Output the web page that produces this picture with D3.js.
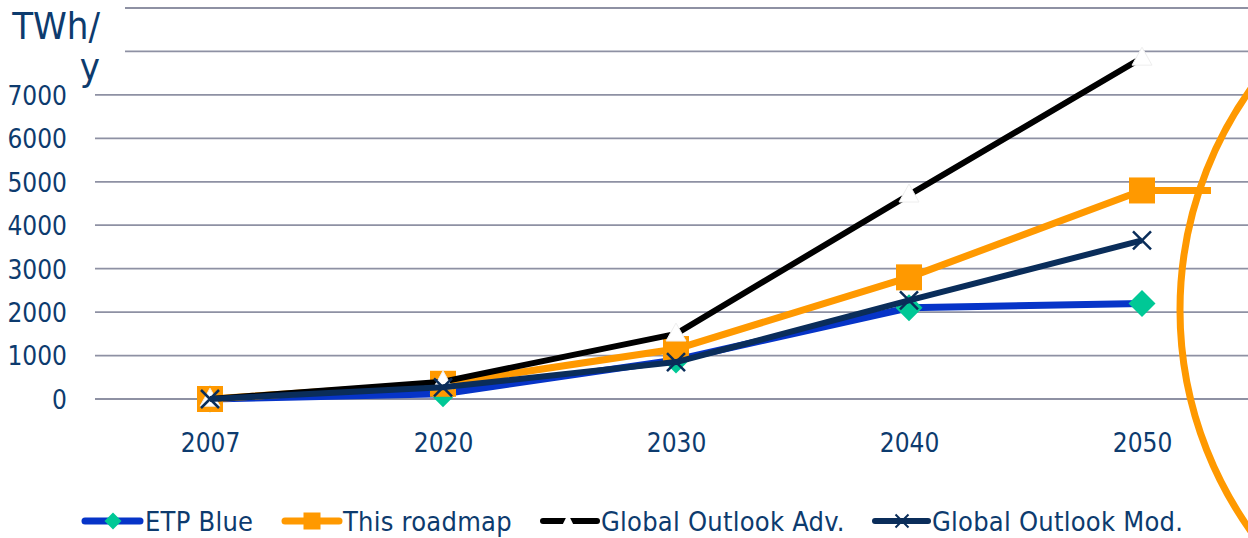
<!DOCTYPE html>
<html>
<head>
<meta charset="utf-8">
<script src="https://cdn.jsdelivr.net/npm/d3@7/dist/d3.min.js"></script>
<style>
  html, body { margin: 0; padding: 0; background: #ffffff; overflow: hidden; }
  svg { display: block; }
  text { font-family: "DejaVu Sans Condensed", "DejaVu Sans", sans-serif; fill: #0d3b6e; }
</style>
</head>
<body>
<svg id="chart" width="1248" height="538"></svg>
<script>
// Electricity generation scenarios, TWh per year
const years = ["2007", "2020", "2030", "2040", "2050"];
const etpBlue = [0, 120, 900, 2100, 2200];
const roadmap = [0, 350, 1150, 2800, 4800];
const outlookAdv = [0, 400, 1500, 4700, 7850];
const outlookMod = [0, 270, 850, 2270, 3650];
const yTickValues = [0, 1000, 2000, 3000, 4000, 5000, 6000, 7000];
const gridValues = [0, 1000, 2000, 3000, 4000, 5000, 6000, 7000, 8000, 9000];
const seriesNames = ["ETP Blue", "This roadmap", "Global Outlook Adv.", "Global Outlook Mod."];

const W = 1248, H = 538;
const svg = d3.select("#chart");

const x = d3.scalePoint().domain(years).range([210, 1142]);
const y = d3.scaleLinear().domain([0, 9000]).range([399, 8]);

const colors = {
  blue: "#0634c8",
  diamond: "#00c896",
  orange: "#ff9900",
  black: "#000000",
  navy: "#0a2d5a"
};

// horizontal gridlines
svg.append("g")
  .selectAll("line")
  .data(gridValues)
  .join("line")
  .attr("x1", 95)
  .attr("x2", W)
  .attr("y1", d => y(d))
  .attr("y2", d => y(d))
  .attr("stroke", "#8e91a3")
  .attr("stroke-width", 1.8);

// y axis labels (no axis line)
const yAxis = d3.axisLeft(y).tickValues(yTickValues).tickSize(0).tickPadding(0).tickFormat(d3.format("d"));
const gy = svg.append("g").attr("transform", "translate(67,0)").call(yAxis);
gy.select(".domain").remove();
gy.selectAll("text")
  .attr("font-size", 26)
  .attr("dy", "0.36em")
  .style("font-family", '"DejaVu Sans Condensed", sans-serif')
  .style("fill", "#0d3b6e");

// x axis labels
const xAxis = d3.axisBottom(x).tickSize(0).tickPadding(0);
const gx = svg.append("g").attr("transform", "translate(0,443)").call(xAxis);
gx.select(".domain").remove();
gx.selectAll("text")
  .attr("font-size", 26)
  .attr("dy", "0.36em")
  .attr("y", 0)
  .style("font-family", '"DejaVu Sans Condensed", sans-serif')
  .style("fill", "#0d3b6e");

// marker shapes
const diamondPath = s => `M0,${-s/2}L${s/2},0L0,${s/2}L${-s/2},0Z`;
const trianglePath = (w, h) => `M0,${-h*0.6}L${w/2},${h*0.4}L${-w/2},${h*0.4}Z`;
const crossPath = s => `M${-s/2},${-s/2}L${s/2},${s/2}M${s/2},${-s/2}L${-s/2},${s/2}`;

const line = d3.line().x((d, i) => x(years[i])).y(d => y(d));
const plot = svg.append("g");

function drawSeries(values, stroke, width, markerFn) {
  const g = plot.append("g");
  g.append("path")
    .datum(values)
    .attr("d", line)
    .attr("fill", "none")
    .attr("stroke", stroke)
    .attr("stroke-width", width)
    .attr("stroke-linejoin", "round");
  g.selectAll("g.m")
    .data(values)
    .join("g")
    .attr("class", "m")
    .attr("transform", (d, i) => `translate(${x(years[i])},${y(d)})`)
    .each(function () { markerFn(d3.select(this)); });
}

drawSeries(etpBlue, colors.blue, 7, m =>
  m.append("path").attr("d", diamondPath(27)).attr("fill", colors.diamond));

drawSeries(roadmap, colors.orange, 7, m =>
  m.append("rect").attr("x", -13).attr("y", -13).attr("width", 26).attr("height", 26).attr("fill", colors.orange));

drawSeries(outlookAdv, colors.black, 6, m =>
  m.append("path").attr("d", trianglePath(20, 18)).attr("fill", "#ffffff").attr("stroke", "#eeeeee").attr("stroke-width", 1));

drawSeries(outlookMod, colors.navy, 6, m =>
  m.append("path").attr("d", crossPath(18)).attr("fill", "none").attr("stroke", colors.navy).attr("stroke-width", 2.5));

// highlight ring around the 2050 figures
const last = years[years.length - 1];
svg.append("circle")
  .attr("cx", x(last) + 418)
  .attr("cy", 310)
  .attr("r", 380)
  .attr("fill", "none")
  .attr("stroke", colors.orange)
  .attr("stroke-width", 7);

svg.append("line")
  .attr("x1", x(last))
  .attr("x2", x(last) + 69)
  .attr("y1", y(roadmap[roadmap.length - 1]))
  .attr("y2", y(roadmap[roadmap.length - 1]))
  .attr("stroke", colors.orange)
  .attr("stroke-width", 7);

// unit title on a white panel
svg.append("rect").attr("x", 0).attr("y", 0).attr("width", 125).attr("height", 75).attr("fill", "#ffffff");
const title = svg.append("text")
  .attr("text-anchor", "end")
  .attr("font-size", 38)
  .style("fill", "#0d3b6e");
title.append("tspan").attr("x", 100).attr("y", 39).text("TWh/");
title.append("tspan").attr("x", 100).attr("y", 80).text("y");

// legend
const legendY = 521;
const legend = svg.append("g");
const legendItems = [
  { name: seriesNames[0], x1: 85, x2: 140, mx: 113, color: colors.blue, w: 7, tx: 145,
    marker: g => g.append("path").attr("d", diamondPath(17)).attr("fill", colors.diamond) },
  { name: seriesNames[1], x1: 285, x2: 339, mx: 312, color: colors.orange, w: 7, tx: 343,
    marker: g => g.append("rect").attr("x", -8.5).attr("y", -8.5).attr("width", 17).attr("height", 17).attr("fill", colors.orange) },
  { name: seriesNames[2], x1: 543, x2: 597, mx: 568, color: colors.black, w: 6, tx: 601,
    marker: g => g.append("path").attr("d", trianglePath(12, 12)).attr("fill", "#ffffff") },
  { name: seriesNames[3], x1: 875, x2: 928, mx: 902, color: colors.navy, w: 6, tx: 932,
    marker: g => g.append("path").attr("d", crossPath(13)).attr("fill", "none").attr("stroke", colors.navy).attr("stroke-width", 2) }
];
legendItems.forEach(it => {
  legend.append("line")
    .attr("x1", it.x1).attr("x2", it.x2)
    .attr("y1", legendY).attr("y2", legendY)
    .attr("stroke", it.color).attr("stroke-width", it.w)
    .attr("stroke-linecap", "round");
  it.marker(legend.append("g").attr("transform", `translate(${it.mx},${legendY})`));
  legend.append("text")
    .attr("x", it.tx).attr("y", legendY)
    .attr("dy", "0.36em")
    .attr("font-size", 27)
    .attr("letter-spacing", 0.25)
    .text(it.name);
});
</script>
</body>
</html>
